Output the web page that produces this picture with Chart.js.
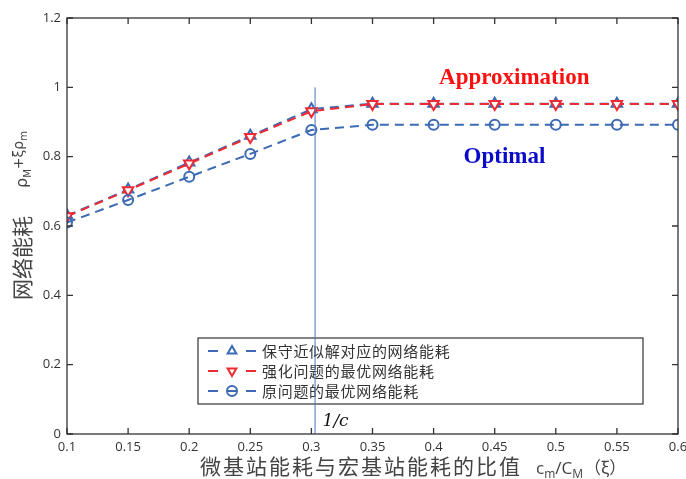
<!DOCTYPE html>
<html>
<head>
<meta charset="utf-8">
<script src="https://cdn.jsdelivr.net/npm/chart.js@4/dist/chart.umd.min.js"></script>
<style>
  html, body { margin: 0; padding: 0; background: #fff; }
  #wrap { width: 686px; height: 479px; }
</style>
</head>
<body>
<div id="wrap"><canvas id="c" width="686" height="479"></canvas></div>
<script>
// data
const xValues = [0.1, 0.15, 0.2, 0.25, 0.3, 0.35, 0.4, 0.45, 0.5, 0.55, 0.6];
const conservative = [0.63, 0.705, 0.783, 0.86, 0.937, 0.953, 0.953, 0.953, 0.953, 0.953, 0.953];
const strengthened = [0.628, 0.703, 0.78, 0.857, 0.931, 0.952, 0.952, 0.952, 0.952, 0.952, 0.952];
const optimal = [0.61, 0.675, 0.742, 0.808, 0.877, 0.892, 0.892, 0.892, 0.892, 0.892, 0.892];
const seriesNames = ["保守近似解对应的网络能耗", "强化问题的最优网络能耗", "原问题的最优网络能耗"];
const xTicks = [0.1, 0.15, 0.2, 0.25, 0.3, 0.35, 0.4, 0.45, 0.5, 0.55, 0.6];
const yTicks = [0, 0.2, 0.4, 0.6, 0.8, 1, 1.2];
const cutoffX = 0.3026;   // 1/c marker line
const cutoffTop = 1.0;

const blue = "#3c6ab5";
const red = "#ee2a34";
const cjk = '"Noto Sans CJK SC", "Noto Sans", sans-serif';

function pts(ys) {
  return xValues.map((x, i) => ({ x: x, y: ys[i] }));
}

// box, inward ticks, cutoff line, titles, annotations and legend
const decor = {
  id: "decor",
  afterDatasetsDraw(chart) {
    const ctx = chart.ctx;
    const a = chart.chartArea;
    const xs = chart.scales.x, ys = chart.scales.y;
    ctx.save();

    // legend
    const lx = 198, ly = 338, lw = 445, lh = 66;
    ctx.fillStyle = "#fff";
    ctx.fillRect(lx, ly, lw, lh);
    ctx.strokeStyle = "#333";
    ctx.lineWidth = 1.2;
    ctx.strokeRect(lx, ly, lw, lh);
    chart.data.datasets.forEach((ds, i) => {
      const y = ly + 13 + i * 20;
      ctx.strokeStyle = ds.borderColor;
      ctx.lineWidth = 2;
      ctx.beginPath();
      ctx.moveTo(208, y); ctx.lineTo(218, y);
      ctx.moveTo(246, y); ctx.lineTo(256, y);
      ctx.stroke();
      ctx.fillStyle = "#fff";
      Chart.helpers.drawPoint(ctx, {
        pointStyle: ds.pointStyle, radius: 5, rotation: ds.pointRotation || 0, borderWidth: 2
      }, 232, y);
      if (ds.pointStyle === "circle") {
        ctx.beginPath(); ctx.moveTo(227, y); ctx.lineTo(237, y); ctx.stroke();
      }
      ctx.fillStyle = "#333";
      ctx.font = "15px " + cjk;
      ctx.letterSpacing = "0.7px";
      ctx.textAlign = "left";
      ctx.textBaseline = "middle";
      ctx.fillText(ds.label, 262, y);
      ctx.letterSpacing = "0px";
    });

    // cutoff line
    const cx = xs.getPixelForValue(cutoffX);
    ctx.strokeStyle = "#4a76b8";
    ctx.lineWidth = 1;
    ctx.beginPath();
    ctx.moveTo(cx + 0.5, ys.getPixelForValue(cutoffTop));
    ctx.lineTo(cx + 0.5, a.bottom);
    ctx.stroke();

    // frame
    ctx.strokeStyle = "#333";
    ctx.lineWidth = 1.3;
    ctx.strokeRect(a.left, a.top, a.right - a.left, a.bottom - a.top);
    ctx.beginPath();
    xTicks.forEach(v => {
      const p = xs.getPixelForValue(v);
      ctx.moveTo(p, a.bottom); ctx.lineTo(p, a.bottom - 6);
      ctx.moveTo(p, a.top); ctx.lineTo(p, a.top + 6);
    });
    yTicks.forEach(v => {
      const p = ys.getPixelForValue(v);
      ctx.moveTo(a.left, p); ctx.lineTo(a.left + 6, p);
      ctx.moveTo(a.right, p); ctx.lineTo(a.right - 6, p);
    });
    ctx.stroke();

    // 1/c
    ctx.fillStyle = "#111";
    ctx.font = 'italic 17px "DejaVu Serif", serif';
    ctx.textAlign = "left";
    ctx.textBaseline = "alphabetic";
    ctx.fillText("1/c", cx + 8, a.bottom - 8);

    // annotations
    ctx.textAlign = "center";
    ctx.textBaseline = "middle";
    ctx.font = 'bold 23px "Liberation Serif", serif';
    ctx.fillStyle = "#ff1010";
    ctx.fillText("Approximation", xs.getPixelForValue(0.466), ys.getPixelForValue(1.027));
    ctx.fillStyle = "#0a0ac8";
    ctx.fillText("Optimal", xs.getPixelForValue(0.458), ys.getPixelForValue(0.80));

    // x title
    ctx.fillStyle = "#444";
    ctx.textBaseline = "alphabetic";
    ctx.textAlign = "left";
    ctx.font = "21px " + cjk;
    ctx.letterSpacing = "2px";
    const base = 474;
    ctx.fillText("微基站能耗与宏基站能耗的比值", 200, base);
    ctx.letterSpacing = "0px";
    let tx = 536;
    const put = (t, f, dy) => { ctx.font = f; ctx.fillText(t, tx, base + dy); tx += ctx.measureText(t).width; };
    put("c", '17px "Open Sans", sans-serif', 0);
    put("m", '12px "Open Sans", sans-serif', 4);
    put("/C", '17px "Open Sans", sans-serif', 0);
    put("M", '12px "Open Sans", sans-serif', 4);
    tx += 1;
    put("（ξ）", "17px " + cjk, 0);

    // y title (rotated)
    ctx.save();
    ctx.translate(31, 300);
    ctx.rotate(-Math.PI / 2);
    ctx.textAlign = "left";
    ctx.textBaseline = "alphabetic";
    ctx.fillStyle = "#444";
    ctx.font = "21px " + cjk;
    ctx.fillText("网络能耗", 0, -1);
    let ty = 112;
    const putY = (t, f, dy) => { ctx.font = f; ctx.fillText(t, ty, dy); ty += ctx.measureText(t).width; };
    putY("ρ", '16px "DejaVu Sans", sans-serif', -4);
    putY("M", '10px "DejaVu Sans", sans-serif', 0);
    putY("+ξρ", '14px "DejaVu Sans", sans-serif', -8);
    putY("m", '10px "DejaVu Sans", sans-serif', -4);
    ctx.restore();

    ctx.restore();
  }
};

new Chart(document.getElementById("c"), {
  type: "line",
  data: {
    datasets: [
      {
        label: seriesNames[0], data: pts(conservative),
        borderColor: blue, backgroundColor: "rgba(0,0,0,0)",
        pointStyle: "triangle", pointRadius: 6, pointBorderWidth: 2,
        borderDash: [9, 6], borderWidth: 2, order: 3
      },
      {
        label: seriesNames[1], data: pts(strengthened),
        borderColor: red, backgroundColor: "rgba(0,0,0,0)",
        pointBackgroundColor: "#fff",
        pointStyle: "triangle", pointRotation: 180, pointRadius: 6, pointBorderWidth: 2,
        borderDash: [9, 6], borderWidth: 2, order: 2
      },
      {
        label: seriesNames[2], data: pts(optimal),
        borderColor: blue, backgroundColor: "rgba(0,0,0,0)",
        pointStyle: "circle", pointRadius: 5, pointBorderWidth: 2,
        borderDash: [9, 6], borderWidth: 2, order: 1
      }
    ]
  },
  options: {
    responsive: false,
    animation: false,
    layout: { padding: { top: 18, right: 7, left: 0, bottom: 0 } },
    plugins: { legend: { display: false }, tooltip: { enabled: false } },
    scales: {
      x: {
        type: "linear", min: 0.1, max: 0.6,
        afterBuildTicks: s => { s.ticks = xTicks.map(v => ({ value: v })); },
        afterFit: s => { s.height = 45; s.paddingLeft = 0; s.paddingRight = 0; },
        grid: { display: false, drawTicks: false },
        border: { display: false },
        ticks: {
          color: "#333", font: { family: '"Open Sans", sans-serif', size: 13 },
          padding: 5, maxRotation: 0, autoSkip: false,
          callback: v => String(Math.round(v * 100) / 100)
        }
      },
      y: {
        min: 0, max: 1.2,
        afterBuildTicks: s => { s.ticks = yTicks.map(v => ({ value: v })); },
        afterFit: s => { s.width = 67; s.paddingTop = 0; s.paddingBottom = 0; },
        grid: { display: false, drawTicks: false },
        border: { display: false },
        ticks: {
          color: "#333", font: { family: '"Open Sans", sans-serif', size: 13 },
          padding: 6,
          callback: v => String(Math.round(v * 10) / 10)
        }
      }
    }
  },
  plugins: [decor]
});
</script>
</body>
</html>
